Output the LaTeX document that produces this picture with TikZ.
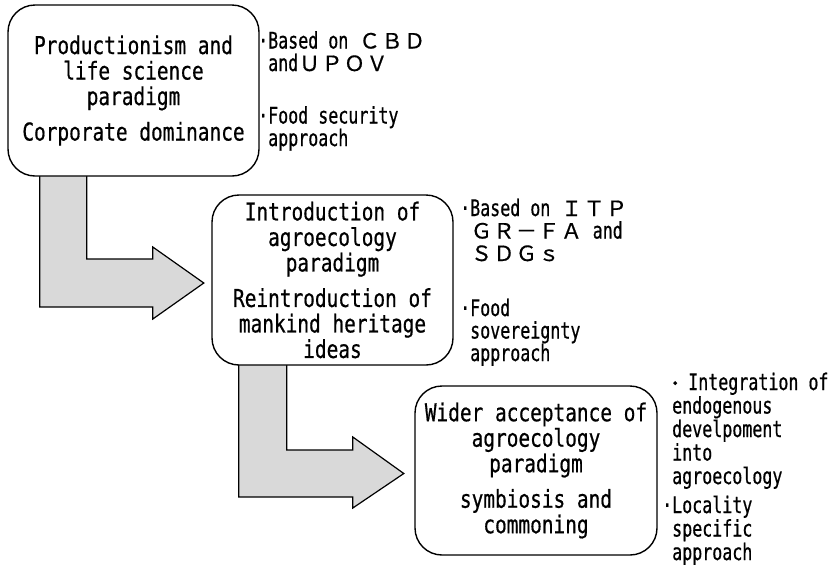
\documentclass[tikz,border=0pt]{standalone}
\usepackage{fontspec}
\usetikzlibrary{calc}
\newfontfamily\boxfont{DejaVu Sans Mono}[FakeStretch=0.79,FakeBold=0.6]
\newfontfamily\sidefont{DejaVu Sans Mono}[FakeStretch=0.73,FakeBold=0.6]
\newfontfamily\cjkfont{Noto Sans CJK JP}[FakeBold=0.6]
\newcommand\fw[1]{\makebox[22.5pt]{\cjkfont\fontsize{21}{21}\selectfont #1}}
\definecolor{arrowgray}{RGB}{217,217,217}
\tikzset{
  stage/.style={draw, line width=1.4pt, rounded corners=27pt, fill=white, align=center,
    inner sep=0pt, font=\boxfont\fontsize{24.6}{25.5}\selectfont},
  side/.style={anchor=base west, align=left, inner sep=0pt,
    font=\sidefont\fontsize{22.8}{22.5}\selectfont},
  bendarrow/.style={draw, line width=1.2pt, fill=arrowgray, line join=miter},
}
\begin{document}
\begin{tikzpicture}[x=1pt,y=-1pt]
\useasboundingbox (0,0) rectangle (829,566);
% stage boxes (coordinates first, drawn after arrows)
\path (133.5,90.5) coordinate (c1) (332.5,280) coordinate (c2) (536,470.5) coordinate (c3);
\path (c1) node[minimum width=251pt, minimum height=171pt, inner sep=0pt] (p1) {}
      (c2) node[minimum width=241pt, minimum height=170pt, inner sep=0pt] (p2) {}
      (c3) node[minimum width=242pt, minimum height=169pt, inner sep=0pt] (p3) {};
\coordinate (a1tip) at ($(p2.west)+(-8,3)$);
\coordinate (a2tip) at ($(p3.west)+(-11,3)$);
\draw[bendarrow] ($(p1.south west)+(79,-6)$) |- ($(a1tip)+(-51,-24)$) -- ++(0,-12)
   -- (a1tip) -- ($(a1tip)+(-51,36)$) -- ++(0,-12) -| ($(p1.south west)+(32,-6)$);
\draw[bendarrow] ($(p2.south west)+(75,-6)$) |- ($(a2tip)+(-51,-23.5)$) -- ++(0,-13)
   -- (a2tip) -- ($(a2tip)+(-51,34.5)$) -- ++(0,-11) -| ($(p2.south west)+(27,-6)$);
\node[stage, minimum width=251pt, minimum height=171pt] (b1) at (c1)
  {Productionism and\\life science\\paradigm\\[10pt]Corporate dominance};
\node[stage, minimum width=241pt, minimum height=170pt] (b2) at (c2)
  {Introduction of\\agroecology\\paradigm\\[10pt]Reintroduction of\\mankind heritage\\ideas};
\node[stage, minimum width=242pt, minimum height=169pt] (b3) at (c3)
  {Wider acceptance of\\agroecology\\paradigm\\[10pt]symbiosis and\\commoning};
% side notes (anchored at the baseline of their last line)
\node[side] (s1a) at (268,71) {\llap{·}Based on \fw{Ｃ}\fw{Ｂ}\fw{Ｄ}\\and\fw{Ｕ}\fw{Ｐ}\fw{Ｏ}\fw{Ｖ}};
\node[side] (s1b) at (268,146) {\llap{·}Food security\\approach};
\node[side] (s2a) at (470,261) {\llap{·}Based on \fw{Ｉ}\fw{Ｔ}\fw{Ｐ}\\\fw{Ｇ}\fw{Ｒ}\fw{－}\fw{Ｆ}\fw{Ａ} and\\\fw{Ｓ}\fw{Ｄ}\fw{Ｇ}\fw{ｓ}};
\node[side] (s2b) at (470,361) {\llap{·}Food\\sovereignty\\approach};
\node[side, font=\sidefont\fontsize{22.8}{23.5}\selectfont] (s3a) at (672,484)
  {\makebox[6pt]{\cjkfont\fontsize{18}{18}\selectfont ・} Integration of\\endogenous\\develpoment\\into\\agroecology};
\node[side, font=\sidefont\fontsize{22.8}{23.5}\selectfont] (s3b) at (672,560) {\llap{·}Locality\\specific\\approach};
\end{tikzpicture}
\end{document}
